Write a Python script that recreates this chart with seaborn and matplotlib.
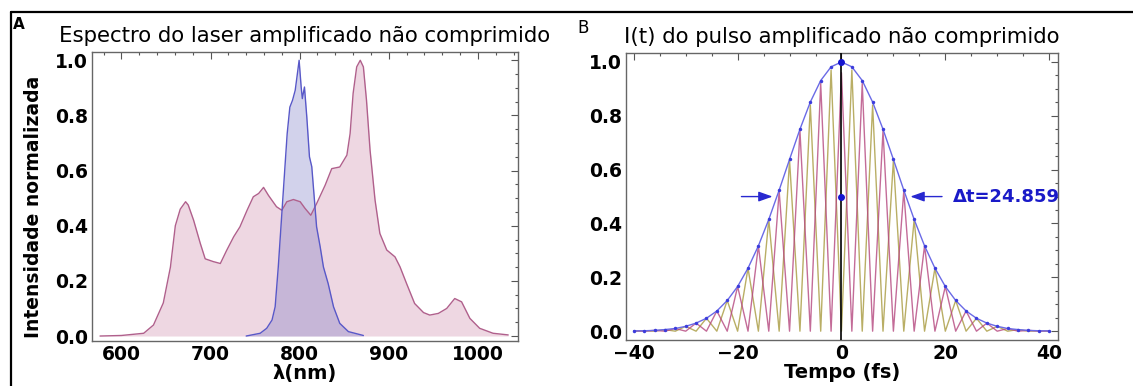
import numpy as np
import pandas as pd
import matplotlib
matplotlib.use("Agg")
import matplotlib.pyplot as plt
from matplotlib.lines import Line2D
from matplotlib.ticker import MultipleLocator
import seaborn as sns

# ---------------- data: panel A (spectra) ----------------
broad_wl = [576, 600, 625, 636, 647, 655, 660.5, 666, 672, 675, 681, 688.5, 694, 703, 711,
            718, 726, 733, 741, 748, 754, 759.5, 765, 774, 780, 785.6, 793, 800.6, 806,
            812.5, 819, 828.6, 836, 845, 853, 856.6, 860, 864, 868, 871.5, 875, 879, 884.6,
            890, 897.7, 907, 912.6, 920, 929, 939, 946, 955.6, 965, 974, 981.7, 991, 1002,
            1017, 1034]
broad_int = [0.0, 0.002, 0.01, 0.04, 0.12, 0.25, 0.40, 0.46, 0.487, 0.475, 0.42, 0.336, 0.28,
             0.27, 0.263, 0.31, 0.36, 0.396, 0.456, 0.505, 0.517, 0.539, 0.51, 0.469, 0.456,
             0.487, 0.495, 0.487, 0.463, 0.438, 0.48, 0.547, 0.607, 0.613, 0.656, 0.734, 0.88,
             0.976, 1.0, 0.976, 0.855, 0.674, 0.493, 0.372, 0.312, 0.287, 0.251, 0.19, 0.118,
             0.085, 0.076, 0.082, 0.10, 0.136, 0.124, 0.064, 0.028, 0.01, 0.004]
narrow_wl = [740, 755.7, 763, 769, 772.5, 776, 780, 784, 786, 789, 792, 795, 797, 799.4,
             801.7, 803, 805.4, 808, 811, 813.6, 816, 819, 823, 826.7, 832, 838, 845, 854.7,
             871.5]
narrow_int = [0.0, 0.01, 0.028, 0.058, 0.106, 0.25, 0.444, 0.638, 0.734, 0.83, 0.855, 0.891,
              0.94, 1.0, 0.903, 0.861, 0.903, 0.795, 0.65, 0.614, 0.517, 0.396, 0.324, 0.25,
              0.19, 0.106, 0.046, 0.016, 0.002]

# ---------------- data: panel B (pulse) ----------------
pulse_t = [-40, -38, -36, -34, -32, -30, -28, -26, -24, -22, -20, -18, -16, -14, -12, -10,
           -8, -6, -4, -2, 0, 2, 4, 6, 8, 10, 12, 14, 16, 18, 20, 22, 24, 26, 28, 30, 32,
           34, 36, 38, 40]
envelope = [0.001, 0.0015, 0.003, 0.006, 0.010, 0.018, 0.030, 0.048, 0.075, 0.114, 0.166,
            0.234, 0.317, 0.415, 0.524, 0.638, 0.750, 0.851, 0.931, 0.982, 1.0, 0.982, 0.931,
            0.851, 0.750, 0.638, 0.524, 0.415, 0.317, 0.234, 0.166, 0.114, 0.075, 0.048,
            0.030, 0.018, 0.010, 0.006, 0.003, 0.0015, 0.001]
spike_peak = [0.001, 0.0015, 0.003, 0.006, 0.010, 0.018, 0.030, 0.048, 0.075, 0.114, 0.166,
              0.234, 0.317, 0.415, 0.520, 0.635, 0.745, 0.84, 0.92, 0.97, 0.96, 0.97, 0.92,
              0.84, 0.745, 0.635, 0.520, 0.415, 0.317, 0.234, 0.166, 0.114, 0.075, 0.048,
              0.030, 0.018, 0.010, 0.006, 0.003, 0.0015, 0.001]
fwhm_label = "\u0394t=24.859"
fwhm_half = 12.43

# ---------------- style ----------------
sns.set_theme(style="white")
plt.rcParams["font.family"] = ["DejaVu Sans"]
plt.rcParams["text.color"] = "black"

fig = plt.figure(figsize=(11.33, 3.86), dpi=100)
axA = fig.add_axes([0.0812, 0.1166, 0.376, 0.7487])
axB = fig.add_axes([0.5525, 0.119, 0.3813, 0.7435])

pink_line = "#B0608C"
pink_fill = "#C77DA0"
blue_line = "#5858C8"
blue_fill = "#6A6ABE"

# panel A
sns.lineplot(x=broad_wl, y=broad_int, ax=axA, color=pink_line, lw=1.0, estimator=None, sort=False)
axA.fill_between(broad_wl, 0, broad_int, color=pink_fill, alpha=0.3, lw=0)
sns.lineplot(x=narrow_wl, y=narrow_int, ax=axA, color=blue_line, lw=1.0, estimator=None, sort=False)
axA.fill_between(narrow_wl, 0, narrow_int, color=blue_fill, alpha=0.3, lw=0)
axA.set_xlim(567, 1045)
axA.set_ylim(-0.018, 1.03)
axA.xaxis.set_major_locator(MultipleLocator(100))
axA.xaxis.set_minor_locator(MultipleLocator(20))
axA.set_title("Espectro do laser amplificado não comprimido", fontsize=15.3, pad=7, color="black")
axA.set_xlabel("\u03bb(nm)", fontsize=14, fontweight="bold", labelpad=0, color="black")
axA.set_ylabel("Intensidade normalizada", fontsize=13.5, fontweight="bold", color="black")
axA.yaxis.set_label_coords(-0.115, 0.465)

# panel B: spikes built from the peak values, alternating with zeros
t_arr = np.array(pulse_t)
pk = np.array(spike_peak)
pink_y = np.where(t_arr % 4 == 0, pk, 0.0)
olive_y = np.where(t_arr % 4 != 0, pk, 0.0)
dfB = pd.DataFrame({"t": pulse_t, "pink": pink_y, "olive": olive_y, "env": envelope})
sns.lineplot(data=dfB, x="t", y="olive", ax=axB, color="#A89A3E", lw=1.0, alpha=0.8,
             estimator=None, sort=False)
sns.lineplot(data=dfB, x="t", y="pink", ax=axB, color="#B5477F", lw=1.0, alpha=0.8,
             estimator=None, sort=False)
sns.lineplot(data=dfB, x="t", y="env", ax=axB, color="#6A6AE6", lw=1.0, estimator=None,
             sort=False, marker="o", markersize=2.5, markeredgewidth=0, markerfacecolor="#3C3CDC")
axB.axvline(0, color="black", lw=1.2, zorder=5)
axB.plot([0, 0], [1.0, 0.5], "o", color="#1515D0", ms=4, zorder=6, ls="none")
axB.annotate("", xy=(-fwhm_half - 0.3, 0.5), xytext=(-19.8, 0.5),
             arrowprops=dict(arrowstyle="-|>,head_length=0.7,head_width=0.25", color="#2828D0", lw=1.0))
axB.annotate("", xy=(fwhm_half + 0.3, 0.5), xytext=(19.9, 0.5),
             arrowprops=dict(arrowstyle="-|>,head_length=0.7,head_width=0.25", color="#2828D0", lw=1.0))
axB.text(21.4, 0.5, fwhm_label, color="#1a1ac8", fontsize=13, fontweight="bold",
         va="center", ha="left", clip_on=False)
axB.set_xlim(-41.5, 41.7)
axB.set_ylim(-0.033, 1.033)
axB.xaxis.set_major_locator(MultipleLocator(20))
axB.xaxis.set_minor_locator(MultipleLocator(5))
axB.set_title("I(t) do pulso amplificado não comprimido", fontsize=15.3, pad=7, color="black")
axB.set_xlabel("Tempo (fs)", fontsize=14, fontweight="bold", labelpad=0, color="black")
axB.set_ylabel("")

for ax in (axA, axB):
    ax.yaxis.set_major_locator(MultipleLocator(0.2))
    ax.yaxis.set_minor_locator(MultipleLocator(0.05))
    ax.yaxis.set_major_formatter(matplotlib.ticker.FormatStrFormatter("%.1f"))
    ax.tick_params(which="both", direction="in", top=True, right=True, colors="#555555",
                   labelcolor="black", labelsize=13.5, width=0.8)
    ax.tick_params(which="major", length=5, pad=3)
    ax.tick_params(which="minor", length=2.5)
    for s in ax.spines.values():
        s.set_color("#666666")
        s.set_linewidth(1.0)
    ax.grid(False)

# x tick labels for B use proper minus
axB.xaxis.set_major_formatter(matplotlib.ticker.FuncFormatter(
    lambda v, p: ("\u2212%d" % abs(v)) if v < 0 else "%d" % v))

# panel letters and outer frame
fig.text(0.0115, 0.955, "A", fontsize=11, fontweight="bold", va="top", ha="left")
fig.text(0.510, 0.95, "B", fontsize=12, va="top", ha="left")
fig.add_artist(Line2D([11 / 1133, 1.0], [1 - 12 / 386, 1 - 12 / 386], color="black", lw=1.6,
                      transform=fig.transFigure))
fig.add_artist(Line2D([11 / 1133, 11 / 1133], [0, 1 - 12 / 386], color="black", lw=1.6,
                      transform=fig.transFigure))

# make sure bold applies to all tick labels after formatters are set
fig.canvas.draw()
for ax in (axA, axB):
    for lab in ax.get_xticklabels() + ax.get_yticklabels():
        lab.set_fontweight("bold")

fig.savefig("out.png", dpi=100)
